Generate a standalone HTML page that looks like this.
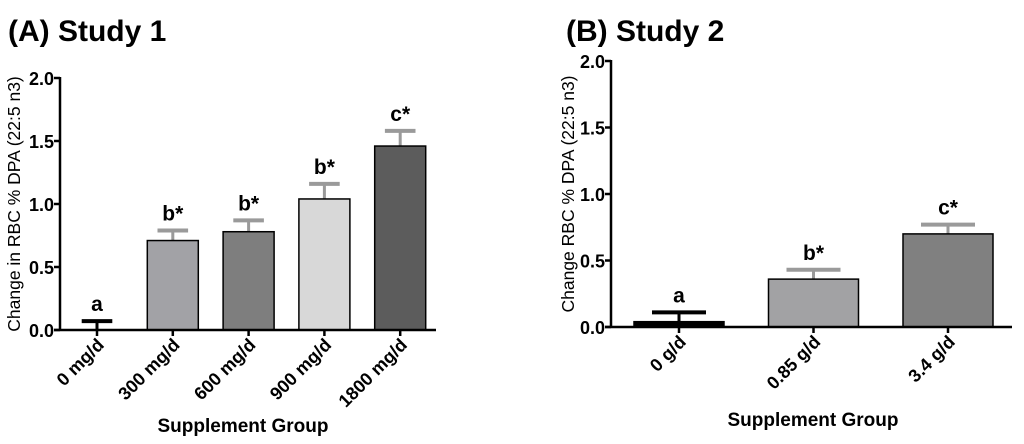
<!DOCTYPE html>
<html><head><meta charset="utf-8">
<style>
body{margin:0;background:#fff;width:1024px;height:439px;overflow:hidden}
svg text{font-family:"Liberation Sans",Arial,sans-serif}
</style></head>
<body>
<svg id="chart" width="1024" height="439" viewBox="0 0 1024 439"></svg>
<script>
const catsA=["0 mg/d","300 mg/d","600 mg/d","900 mg/d","1800 mg/d"];
const valsA=[0.0,0.71,0.78,1.04,1.46];
const errA=[0.07,0.08,0.09,0.12,0.12];
const sigA=["a","b*","b*","b*","c*"];
const colA=["#000","#a2a2a6","#7e7e7e","#d8d8d8","#5c5c5c"];
const catsB=["0 g/d","0.85 g/d","3.4 g/d"];
const valsB=[0.04,0.36,0.70];
const errB=[0.07,0.07,0.07];
const sigB=["a","b*","c*"];
const colB=["#000","#a2a2a4","#808080"];
const ticks=[0,0.5,1.0,1.5,2.0];
const tickLabels=["0.0","0.5","1.0","1.5","2.0"];
const NS="http://www.w3.org/2000/svg";
const svg=document.getElementById('chart');
function mk(t,a,p){const e=document.createElementNS(NS,t);for(const k in a)e.setAttribute(k,a[k]);(p||svg).appendChild(e);return e;}
function panel(o){
 const g=mk('g',{});
 
 
 const y=v=>o.y0-(v/2)*(o.y0-o.y2);
 const x=i=>o.c0+i*o.step;
 const t=mk('text',{x:o.tx,y:41,'font-size':30,'font-weight':'bold',fill:'#000'},g);t.textContent=o.title;
 
 ticks.forEach((v,i)=>{
  mk('line',{x1:o.ax-6,x2:o.ax,y1:y(v),y2:y(v),stroke:'#000','stroke-width':2.5},g);
  const l=mk('text',{x:o.ax-6,y:y(v)+7,'font-size':18,'font-weight':'bold','text-anchor':'end'},g);l.textContent=tickLabels[i];
  
 });
 o.cats.forEach((c,i)=>{
  const cx=x(i),bw=o.bw;
  const top=y(o.vals[i]),et=y(o.vals[i]+o.err[i]);
  const ec=i==0?'#000':'#9a9a9a';
  mk('line',{x1:cx,x2:cx,y1:et,y2:top,stroke:ec,'stroke-width':3},g);
  mk('line',{x1:cx-bw*0.3,x2:cx+bw*0.3,y1:et,y2:et,stroke:ec,'stroke-width':4},g);
  const b=mk('rect',{x:cx-bw/2,y:top,width:bw,height:Math.max(o.y0-top,0),fill:o.col[i],stroke:'#000','stroke-width':1.5},g);
  
  mk('line',{x1:cx,x2:cx,y1:o.y0,y2:o.y0+6,stroke:'#000','stroke-width':2.5},g);
  const s=mk('text',{x:cx,y:et-10,'font-size':21,'font-weight':'bold','text-anchor':'middle'},g);s.textContent=o.sig[i];
  
  const lx=cx+8,ly=o.y0+16;
  const xl=mk('text',{x:lx,y:ly,'font-size':18,'font-weight':'bold','text-anchor':'end',transform:`rotate(-45 ${lx} ${ly})`},g);xl.textContent=c;
  
 });
 mk('line',{x1:o.ax,x2:o.ax,y1:o.y2-1,y2:o.y0+1,stroke:'#000','stroke-width':2.5},g);
 mk('line',{x1:o.ax-6,x2:o.xend,y1:o.y0,y2:o.y0,stroke:'#000','stroke-width':2.5},g);
 const yt=mk('text',{x:0,y:0,'font-size':17.5,'text-anchor':'middle',transform:`translate(${o.ylx} ${(o.y0+o.y2)/2}) rotate(-90)`},g);yt.textContent=o.ytitle;
 
 const xt=mk('text',{x:o.xtx,y:o.xty,'font-size':19,'font-weight':'bold','text-anchor':'middle'},g);xt.textContent='Supplement Group';
 
}
panel({name:'study-1-panel',title:'(A) Study 1',tx:8,ax:60,y0:330,y2:78,c0:97,step:75.8,bw:51,xend:436,
 cats:catsA,vals:valsA,err:errA,sig:sigA,col:colA,ylx:20,ytitle:'Change in RBC % DPA (22:5 n3)',xtx:243,xty:432});
panel({name:'study-2-panel',title:'(B) Study 2',tx:566,ax:611,y0:327,y2:61,c0:679,step:134.5,bw:90,xend:1012,
 cats:catsB,vals:valsB,err:errB,sig:sigB,col:colB,ylx:574,ytitle:'Change RBC % DPA (22:5 n3)',xtx:813,xty:426});
</script>
</body></html>
